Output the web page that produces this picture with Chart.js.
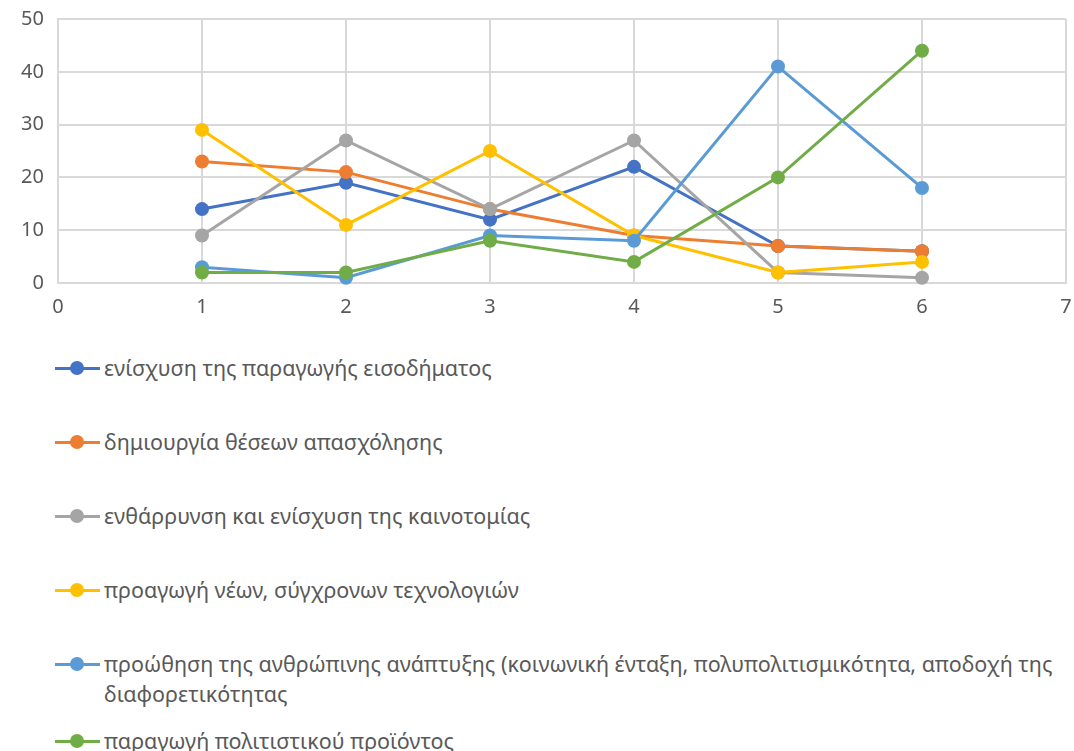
<!DOCTYPE html>
<html>
<head>
<meta charset="utf-8">
<script src="https://cdn.jsdelivr.net/npm/chart.js"></script>
<style>
  body { margin: 0; background: #fff; width: 1074px; height: 751px; overflow: hidden; font-family: "Noto Sans", sans-serif; }
  #wrap { position: absolute; left: 0; top: 0; width: 1074px; height: 340px; }
  #legend { position: absolute; left: 55px; top: 353px; width: 1010px; color: #595959; font-size: 21.5px; }
  .item { display: flex; align-items: flex-start; line-height: 30px; margin-bottom: 44px; }
  .item:nth-child(5) { margin-bottom: 17px; }
  .mark { position: relative; flex: 0 0 45px; height: 30px; margin-right: 4px; }
  .mark .ln { position: absolute; left: 0; right: 0; top: 14px; height: 3px; }
  .mark .dot { position: absolute; left: 15px; top: 8px; width: 14px; height: 14px; border-radius: 50%; }
  .txt { max-width: 950px; }
</style>
</head>
<body>
<div id="wrap"><canvas id="myChart" width="1074" height="340"></canvas></div>
<div id="legend"></div>
<script>
// x positions 1..6
const xs = [1, 2, 3, 4, 5, 6];
const labels = [
  "ενίσχυση της παραγωγής εισοδήματος",
  "δημιουργία θέσεων απασχόλησης",
  "ενθάρρυνση και ενίσχυση της καινοτομίας",
  "προαγωγή νέων, σύγχρονων τεχνολογιών",
  "προώθηση της ανθρώπινης ανάπτυξης (κοινωνική ένταξη, πολυπολιτισμικότητα, αποδοχή της διαφορετικότητας",
  "παραγωγή πολιτιστικού προϊόντος"
];
const incomeVals = [14, 19, 12, 22, 7, 6];
const jobsVals = [23, 21, 14, 9, 7, 6];
const innovVals = [9, 27, 14, 27, 2, 1];
const techVals = [29, 11, 25, 9, 2, 4];
const humanVals = [3, 1, 9, 8, 41, 18];
const cultureVals = [2, 2, 8, 4, 20, 44];
const colors = ["#4472C4", "#ED7D31", "#A5A5A5", "#FFC000", "#5B9BD5", "#70AD47"];

const allVals = [incomeVals, jobsVals, innovVals, techVals, humanVals, cultureVals];

const datasets = allVals.map((vals, i) => ({
    label: labels[i],
    data: vals.map((v, j) => ({ x: xs[j], y: v })),
    showLine: true,
    borderColor: colors[i],
    backgroundColor: colors[i],
    borderWidth: 3,
    pointRadius: 7,
    pointHoverRadius: 7,
    pointBorderWidth: 0,
    clip: false,
    order: allVals.length - i
}));

const tickFont = { family: "Noto Sans", size: 20 };

const ctx = document.getElementById('myChart');
new Chart(ctx, {
    type: 'scatter',
    data: { datasets: datasets },
    options: {
        responsive: false,
        animation: false,
        layout: { padding: { top: 19, right: 8, left: 0, bottom: 0 } },
        plugins: { legend: { display: false }, tooltip: { enabled: false } },
        scales: {
            x: {
                min: 0, max: 7,
                ticks: { stepSize: 1, color: '#595959', font: tickFont, padding: 12 },
                grid: { color: '#d9d9d9', lineWidth: 2, drawTicks: false },
                border: { color: '#d9d9d9', width: 2 },
                afterFit: (s) => { s.height = 57; s.paddingLeft = 0; s.paddingRight = 0; }
            },
            y: {
                min: 0, max: 50,
                ticks: { stepSize: 10, color: '#595959', font: tickFont, padding: 14 },
                grid: { color: '#d9d9d9', lineWidth: 2, drawTicks: false },
                border: { color: '#d9d9d9', width: 2 },
                afterFit: (s) => { s.width = 58; s.paddingTop = 0; s.paddingBottom = 0; }
            }
        }
    }
});

// legend built from the same labels/colours
const legend = document.getElementById('legend');
labels.forEach((label, i) => {
    const item = document.createElement('div');
    item.className = 'item';
    item.innerHTML = `<span class="mark"><span class="ln" style="background:${colors[i]}"></span><span class="dot" style="background:${colors[i]}"></span></span><span class="txt"></span>`;
    item.querySelector('.txt').textContent = label;
    legend.appendChild(item);
});
</script>
</body>
</html>
